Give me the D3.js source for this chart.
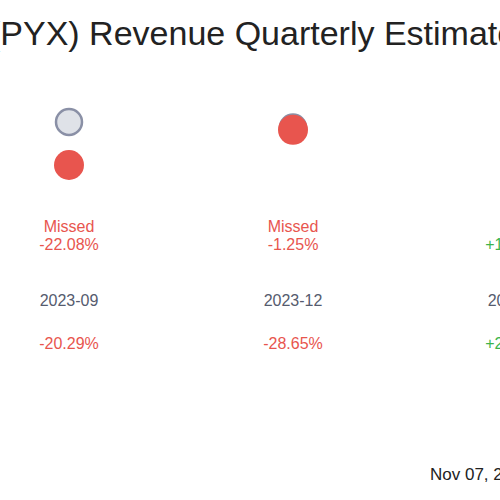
<!DOCTYPE html>
<html><head><meta charset="utf-8">
<script src="https://cdn.jsdelivr.net/npm/d3@7"></script>
<style>body{margin:0;background:#fff}</style></head>
<body><div id="chart"></div>
<script>
// quarters shown in the crop (third one runs off the right edge)
const quarters = ["2023-09", "2023-12", "2024-03"];
const estimates = [100, 97.2, 90];
const actuals = [78, 96, 103];
const surprise = ["-22.08%", "-1.25%", "+14.29%"];
const surpriseLabel = ["Missed", "Missed", "Beat"];
const yoy = ["-20.29%", "-28.65%", "+22.31%"];

const width = 500, height = 500;
const red = "#e8554e", green = "#3cb44b", grey = "#555b6e";

const svg = d3.select("#chart").append("svg")
  .attr("width", width).attr("height", height)
  .style("font-family", "Liberation Sans, Arial, sans-serif");

const x = d3.scalePoint().domain(quarters).range([69, 517]);
const y = d3.scaleLinear().domain([100, 78]).range([122, 165]);

svg.append("text").attr("x", -11).attr("y", 45)
  .attr("font-size", 34).attr("fill", "#222")
  .text("(PYX) Revenue Quarterly Estimates vs Actuals");

const col = svg.selectAll("g.q").data(quarters).enter().append("g")
  .attr("transform", d => `translate(${x(d)},0)`);

col.append("circle").attr("cy", (d, i) => y(estimates[i])).attr("r", 13)
  .attr("fill", "#dfe2e8").attr("stroke", "#8a90a6").attr("stroke-width", 2.5);
col.append("circle").attr("cy", (d, i) => y(actuals[i])).attr("r", 15)
  .attr("fill", (d, i) => actuals[i] < estimates[i] ? red : green);

const c = (d, i) => surpriseLabel[i] === "Missed" ? red : green;
col.append("text").attr("y", 232).attr("text-anchor", "middle").attr("font-size", 16)
  .attr("fill", c).text((d, i) => surpriseLabel[i]);
col.append("text").attr("y", 250).attr("text-anchor", "middle").attr("font-size", 16)
  .attr("fill", c).text((d, i) => surprise[i]);
col.append("text").attr("y", 306).attr("text-anchor", "middle").attr("font-size", 16)
  .attr("fill", grey).text(d => d);
col.append("text").attr("y", 349).attr("text-anchor", "middle").attr("font-size", 16)
  .attr("fill", (d, i) => yoy[i][0] === "-" ? red : green).text((d, i) => yoy[i]);

svg.append("text").attr("x", 430).attr("y", 480).attr("font-size", 17)
  .attr("fill", "#222").text("Nov 07, 2024");
</script></body></html>
